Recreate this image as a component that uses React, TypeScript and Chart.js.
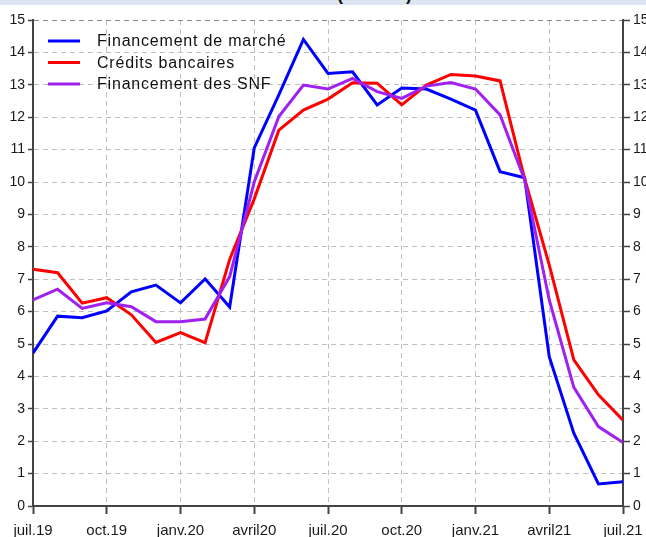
import React, { useEffect, useRef } from "react";
import { Chart, registerables } from "chart.js";

Chart.register(...registerables);

const months = [
  "juil.19", "août19", "sept.19", "oct.19", "nov.19", "déc.19",
  "janv.20", "févr.20", "mars20", "avril20", "mai20", "juin20",
  "juil.20", "août20", "sept.20", "oct.20", "nov.20", "déc.20",
  "janv.21", "févr.21", "mars21", "avril21", "mai21", "juin21", "juil.21",
];

const financementMarche = [
  4.72, 5.86, 5.81, 6.02, 6.61, 6.82, 6.27, 7.01, 6.14, 11.05, 12.69, 14.4,
  13.35, 13.4, 12.38, 12.9, 12.87, 12.56, 12.22, 10.32, 10.13, 4.61, 2.25, 0.68, 0.75,
];

const creditsBancaires = [
  7.31, 7.2, 6.26, 6.43, 5.9, 5.05, 5.35, 5.04, 7.61, 9.48, 11.6, 12.22,
  12.56, 13.06, 13.05, 12.38, 12.99, 13.32, 13.27, 13.12, 10.1, 7.44, 4.51, 3.43, 2.65,
];

const financementSNF = [
  6.36, 6.69, 6.1, 6.27, 6.15, 5.69, 5.69, 5.77, 7.08, 10.0, 12.02, 12.99,
  12.87, 13.2, 12.79, 12.58, 12.96, 13.07, 12.87, 12.07, 10.06, 6.36, 3.66, 2.45, 1.96,
];

const seriesNames = ["Financement de marché", "Crédits bancaires", "Financement des SNF"];
const seriesColors = ["#0000ff", "#ff0000", "#a020f0"];
const titleText = "(en %)";

const FONT = "'Liberation Sans', Arial, Helvetica, sans-serif";

const insideLegend = {
  id: "insideLegend",
  afterDatasetsDraw(chart: any) {
    const ctx = chart.ctx as CanvasRenderingContext2D;
    const { left, top } = chart.chartArea;
    ctx.save();
    ctx.font = `16px ${FONT}`;
    try {
      (ctx as any).letterSpacing = "0.8px";
    } catch (e) {}
    ctx.textBaseline = "middle";
    ctx.textAlign = "left";
    seriesNames.forEach((name, i) => {
      const y = top + 21 + i * 21.5;
      ctx.strokeStyle = seriesColors[i];
      ctx.lineWidth = 3;
      ctx.beginPath();
      ctx.moveTo(left + 15, y);
      ctx.lineTo(left + 47, y);
      ctx.stroke();
      ctx.fillStyle = "#111";
      ctx.fillText(name, left + 64, y + 1);
    });
    ctx.restore();
  },
};

export default function App() {
  const canvasRef = useRef<HTMLCanvasElement | null>(null);

  useEffect(() => {
    if (!canvasRef.current) return;
    Chart.defaults.font.family = FONT;
    const series = [financementMarche, creditsBancaires, financementSNF];
    const chart = new Chart(canvasRef.current, {
      type: "line",
      data: {
        datasets: series.map((vals, i) => ({
          label: seriesNames[i],
          data: vals.map((v, j) => ({ x: j, y: v })),
          borderColor: seriesColors[i],
          backgroundColor: seriesColors[i],
          borderWidth: 3,
          pointRadius: 0,
          tension: 0,
          fill: false,
          order: 2 - i,
          yAxisID: "y",
        })),
      },
      options: {
        responsive: false,
        animation: false,
        layout: { padding: { top: 20, left: 0, right: 0, bottom: 0 } },
        plugins: {
          legend: { display: false },
          tooltip: { enabled: false },
          title: { display: false },
        },
        scales: {
          x: {
            type: "linear",
            min: 0,
            max: months.length - 1,
            ticks: {
              stepSize: 3,
              autoSkip: false,
              maxRotation: 0,
              color: "#1a1a1a",
              font: { size: 15, family: FONT },
              padding: 8,
              callback: (v: any) => months[Number(v)] ?? "",
            },
            grid: {
              color: "#c0c0c0",
              lineWidth: 1,
              tickColor: "#444",
              tickLength: 8,
              tickWidth: 2,
            },
            border: { display: true, color: "#444", width: 2, dash: [5, 4] },
            afterFit: (s: any) => {
              s.height = 31;
              s.paddingLeft = 0;
              s.paddingRight = 0;
            },
          },
          y: {
            position: "left",
            min: 0,
            max: 15,
            ticks: {
              stepSize: 1,
              color: "#1a1a1a",
              font: { size: 14, family: FONT },
              padding: 3,
            },
            grid: {
              color: (c: any) => (c.tick && c.tick.value === 15 ? "#8a8a8a" : "#c0c0c0"),
              lineWidth: 1,
              tickColor: "#444",
              tickLength: 5,
              tickWidth: 1.5,
            },
            border: { display: true, color: "#444", width: 2, dash: [5, 4] },
            afterFit: (s: any) => {
              s.width = 33;
              s.paddingTop = 0;
              s.paddingBottom = 0;
            },
          },
          y2: {
            position: "right",
            min: 0,
            max: 15,
            ticks: {
              stepSize: 1,
              color: "#1a1a1a",
              font: { size: 14, family: FONT },
              padding: 3,
            },
            grid: {
              drawOnChartArea: false,
              tickColor: "#444",
              tickLength: 7,
              tickWidth: 1.5,
            },
            border: { display: true, color: "#444", width: 2 },
            afterFit: (s: any) => {
              s.width = 23;
              s.paddingTop = 0;
              s.paddingBottom = 0;
            },
          },
        },
      } as any,
      plugins: [insideLegend],
    });
    return () => chart.destroy();
  }, []);

  return (
    <div
      style={{
        position: "absolute",
        left: 0,
        top: 0,
        width: 646,
        height: 537,
        background: "#ffffff",
        overflow: "hidden",
      }}
    >
      <canvas
        ref={canvasRef}
        width={646}
        height={537}
        style={{ position: "absolute", left: 0, top: 0, width: 646, height: 537 }}
      />
      <div
        style={{
          position: "absolute",
          left: 0,
          top: 0,
          width: 646,
          height: 5,
          background: "#dce6f1",
          overflow: "hidden",
          zIndex: 2,
        }}
      >
        <span
          style={{
            position: "absolute",
            left: 337,
            top: -15,
            font: `bold 18px ${FONT}`,
            lineHeight: "18px",
            letterSpacing: "4.2px",
            whiteSpace: "nowrap",
            color: "#111",
          }}
        >
          {titleText}
        </span>
      </div>
    </div>
  );
}
